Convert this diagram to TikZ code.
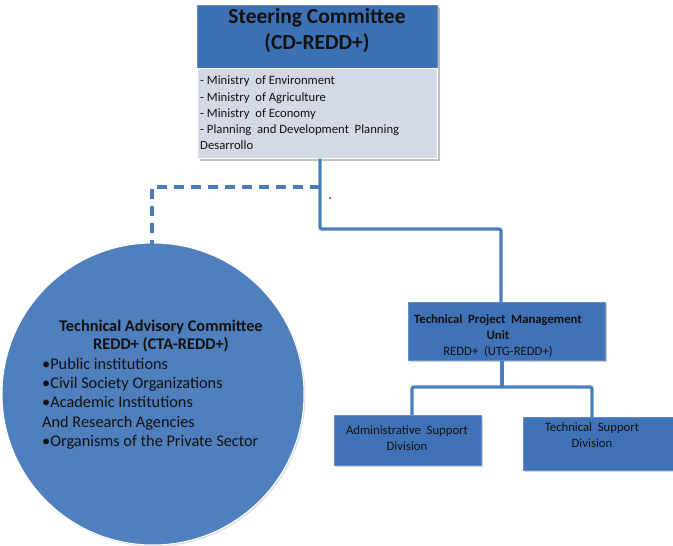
\documentclass[tikz,border=0pt]{standalone}
\usepackage{fontspec}
\setmainfont{Carlito}
\usetikzlibrary{shadows}
\definecolor{hdrblue}{HTML}{3D71B6}
\definecolor{boxblue}{HTML}{3F72B6}
\definecolor{circblue}{HTML}{4F7FBD}
\definecolor{graybody}{HTML}{D4D9E6}
\definecolor{lineblue}{HTML}{4A7EBB}
\definecolor{txt}{HTML}{111111}
\tikzset{
  bluebox/.style={draw=boxblue!80!white, line width=0.6pt, fill=boxblue, rectangle, inner sep=0pt,
    drop shadow={shadow xshift=2pt, shadow yshift=-2pt, fill=black!30, opacity=0.6}},
  conn/.style={draw=lineblue, line width=3.2pt},
  dconn/.style={draw=lineblue, line width=3.2pt, dash pattern=on 10pt off 7pt},
  smalltext/.style={font=\fontsize{12.7}{16}\selectfont, text=txt, align=center},
}
\begin{document}
\begin{tikzpicture}[x=1pt,y=-1pt]
\useasboundingbox (0,0) rectangle (673,546);
% Steering committee
\fill[black!25] (200,8) rectangle (440,161);
\node[bluebox, fill=hdrblue, minimum width=240pt, minimum height=63pt, anchor=north west] (sc) at (197,5) {};
\node[rectangle, draw=white, line width=0.5pt, fill=graybody, minimum width=240pt, minimum height=90pt, anchor=north west, inner sep=0pt] (scb) at (197,68) {};
\node[font=\bfseries\fontsize{21.5}{26}\selectfont, text=txt, align=center] (sct) at (317,31) {Steering Committee\\(CD-REDD+)};
\node[font=\fontsize{12.7}{16.2}\selectfont, text=txt, align=left, anchor=north west, inner sep=0pt] (scl) at (200,76)
{- Ministry\ \ of Environment\\- Ministry\ \ of Agriculture\\- Ministry\ \ of Economy\\- Planning\ \ and Development\ \ Planning\\Desarrollo};
% coordinates
\coordinate (j1) at (320,187);
\coordinate (j2) at (320,229);
\coordinate (j3) at (501,229);
\coordinate (d1) at (152,187);
\coordinate (d2) at (152,246);
% circle
\node[circle, fill=circblue, draw=white, line width=1pt, minimum size=302pt, inner sep=0pt,
  drop shadow={shadow xshift=1.5pt, shadow yshift=-1.5pt, fill=black!25}] (cta) at (153,394) {};
\node[font=\bfseries\fontsize{16.3}{18}\selectfont, text=txt, align=center] (ctat) at (161,336) {Technical Advisory Committee\\REDD+ (CTA-REDD+)};
\node[font=\fontsize{16.3}{19.2}\selectfont, text=txt, align=left, anchor=north west, inner sep=0pt] (ctal) at (42,358)
{•Public institutions\\•Civil Society Organizations\\•Academic Institutions\\And Research Agencies\\•Organisms of the Private Sector};
% UTG
\node[bluebox, minimum width=197pt, minimum height=58pt, anchor=north west] (utg) at (408,302) {};
\node[smalltext] (utgt) at (498,336)
{\textbf{Technical\ \ Project\ \ Management}\\\textbf{Unit}\\REDD+\ \ (UTG-REDD+)};
% divisions
\node[bluebox, minimum width=147pt, minimum height=50pt, anchor=north west] (adm) at (334,415) {};
\node[smalltext] (admt) at (407,438) {Administrative\ \ Support\\Division};
\node[bluebox, minimum width=150pt, minimum height=53pt, anchor=north west] (tsd) at (523,417) {};
\node[smalltext] (tsdt) at (592,435) {Technical\ \ Support\\Division};
\coordinate (k1) at (502,387);
\coordinate (k2) at (412,387);
\coordinate (k3) at (592,387);
% connectors
\draw[conn, rounded corners=2pt] (scb.south -| j1) -- (j1) -- (j2) -- (j3) -- (utg.north -| j3);
\draw[dconn] (j1) -- (d1) -- (d2);
\draw[conn, rounded corners=2pt] (utg.south -| k1) -- (k1);
\draw[conn, rounded corners=2pt] (adm.north -| k2) -- (k2) -- (k3) -- (tsd.north -| k3);
\fill[blue!60!violet] (330,198) circle (1pt);
\end{tikzpicture}
\end{document}
